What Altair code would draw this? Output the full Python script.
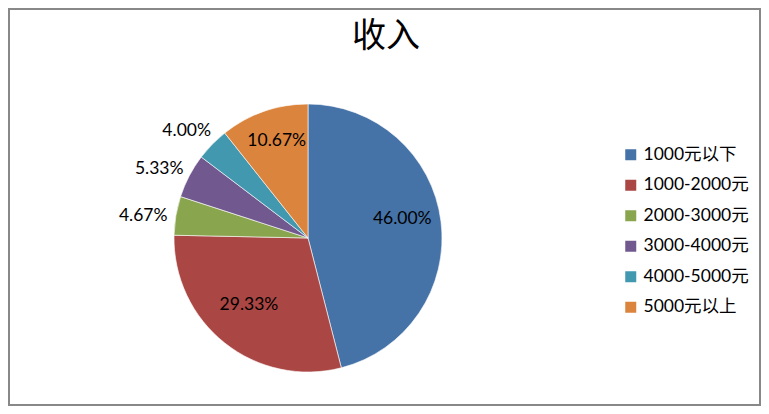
import altair as alt
import pandas as pd

title_text = "收入"
categories = ["1000元以下", "1000-2000元", "2000-3000元", "3000-4000元", "4000-5000元", "5000元以上"]
percents = [46.00, 29.33, 4.67, 5.33, 4.00, 10.67]
colors = ["#4572A7", "#AA4643", "#89A54E", "#71588F", "#4198AF", "#DB843D"]

df = pd.DataFrame({"category": categories, "pct": percents, "idx": list(range(len(categories)))})

FONT = "Lato, 'Noto Sans CJK SC', sans-serif"
CX, CY, R = 300, 230, 134
FS = 17.5

base = alt.Chart(df).encode(
    theta=alt.Theta("pct:Q", stack=True),
    order=alt.Order("idx:Q"),
    x=alt.value(CX),
    y=alt.value(CY),
)

arcs = base.mark_arc(radius=R, stroke="#ffffff", strokeWidth=0.6).encode(
    color=alt.Color(
        "category:N",
        scale=alt.Scale(domain=categories, range=colors),
        sort=categories,
        legend=alt.Legend(
            title=None,
            orient="none",
            legendX=614,
            legendY=138,
            symbolType="square",
            symbolSize=121,
            symbolStrokeWidth=0,
            labelFont=FONT,
            labelFontSize=FS,
            labelColor="#000000",
            labelOffset=4,
            rowPadding=11.5,
            padding=0,
        ),
    )
)

inner = base.transform_calculate(
    lab="datum.pct > 8 ? format(datum.pct, '.2f') + '%' : ''"
).mark_text(radius=95, dy=-7, fontSize=FS, font=FONT, color="#000000").encode(text="lab:N")

outer = base.transform_calculate(
    lab="datum.pct <= 8 ? format(datum.pct, '.2f') + '%' : ''"
).mark_text(radius=160, dx=-7, dy=5, fontSize=FS, font=FONT, color="#000000").encode(text="lab:N")

title = alt.Chart(pd.DataFrame({"t": [title_text]})).mark_text(
    fontSize=34, font="'Noto Sans CJK SC'", color="#000000", baseline="middle", align="center"
).encode(text="t:N", x=alt.value(378), y=alt.value(29))

chart = alt.layer(arcs, inner, outer, title).properties(
    width=753, height=398, padding=0, autosize="none"
).configure_view(stroke="#888888", strokeWidth=4)

chart.save("out.html", embed_options={"renderer": "svg", "actions": False})
